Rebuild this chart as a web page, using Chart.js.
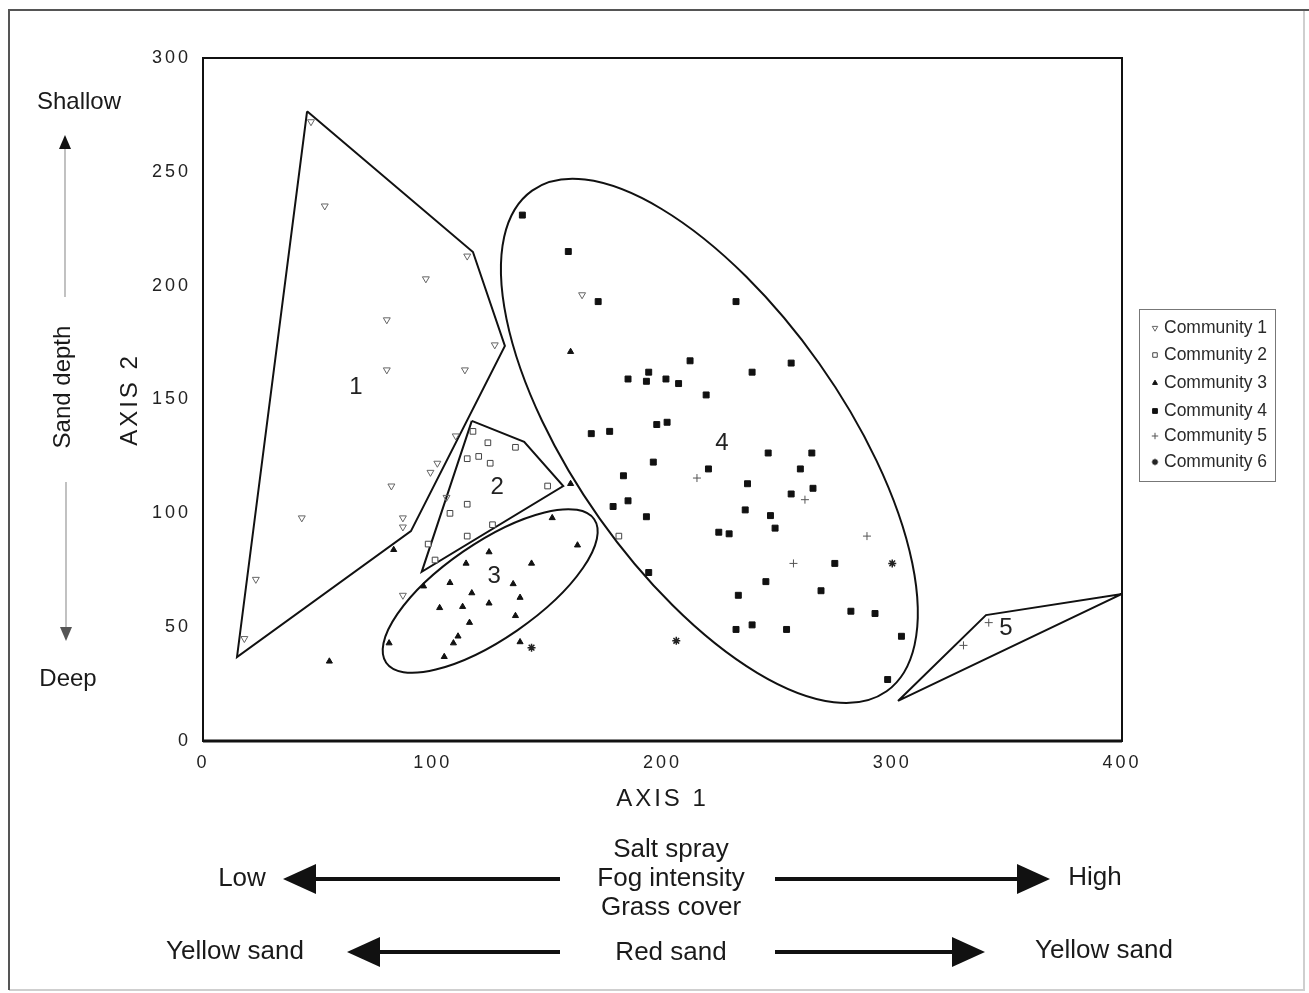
<!DOCTYPE html>
<html><head><meta charset="utf-8">
<script src="https://cdn.jsdelivr.net/npm/chart.js@4.4.1/dist/chart.umd.min.js"></script>
<style>html,body{margin:0;padding:0;background:#fff;}#wrap{width:1309px;height:993px;position:relative;}</style>
</head><body><div id="wrap"><canvas id="c" width="1309" height="993"></canvas></div>
<script>
// ---- data (AXIS 1, AXIS 2) ----
const community1 = [[47,272],[53,235],[115,213],[97,203],[165,196],[80,185],[127,174],[80,163],[114,163],[110,134],[102,122],[99,118],[106,107],[82,112],[43,98],[87,98],[87,94],[23,71],[18,45],[87,64]];
const community2 = [[117.5,136],[124,131],[136,129],[115,124],[120,125],[125,122],[150,112],[115,104],[107.5,100],[126,95],[115,90],[98,86.5],[101,79.5],[181,90]];
const community3 = [[160,113],[152,98],[163,86],[83,84],[124.5,83],[114.5,78],[143,78],[96,68],[107.5,69.5],[135,69],[117,65],[138,63],[124.5,60.5],[103,58.5],[113,59],[136,55],[116,52],[111,46],[109,43],[81,43],[105,37],[55,35],[160,171],[138,43.5]];
const community4 = [[139,231],[159,215],[172,193],[232,193],[212,167],[256,166],[239,162],[185,159],[194,162],[193,158],[201.5,159],[207,157],[219,152],[197.5,139],[202,140],[169,135],[177,136],[246,126.5],[265,126.5],[196,122.5],[220,119.5],[260,119.5],[183,116.5],[237,113],[265.5,111],[256,108.5],[185,105.5],[178.5,103],[236,101.5],[247,99],[193,98.5],[249,93.5],[224.5,91.7],[229,91],[194,74],[245,70],[269,66],[233,64],[282,57],[292.5,56],[232,49],[239,51],[254,49],[304,46],[298,27],[275,78]];
const community5 = [[342,52],[331,42],[257,78],[262,106],[289,90],[215,115.5]];
const community6 = [[206,44],[300,78],[143,41]];
const communityNames = ['Community 1','Community 2','Community 3','Community 4','Community 5','Community 6'];

const polygon1 = [[45.3,276.6],[117.5,214.8],[131.4,173.5],[90.5,92.2],[14.8,36.9],[45.3,276.6]];
const polygon2 = [[117,140.6],[139.8,131.4],[156.8,112],[95.2,74.3],[117,140.6]];
const polygon5 = [[302.5,17.6],[340.8,55.3],[400,64.6],[302.5,17.6]];
// ellipses: centre x, centre y, semi-axes (in AXIS 1 units), rotation (deg)
const ellipseCX = [125.0, 220.4];
const ellipseCY = [65.9, 131.8];
const ellipseA = [55.0, 133.5];
const ellipseB = [20.8, 58.5];
const ellipseRot = [-34.6, 54.7];

const groupLabels = ['1','2','3','4','5'];
const groupLabelX = [66.6,128,126.7,225.9,349.5];
const groupLabelY = [155.5,111.6,72.5,130.9,49.6];

const xTicks = [0,100,200,300,400];
const yTicks = [0,50,100,150,200,250,300];

const FONT = "'Liberation Sans', Arial, sans-serif";
const toXY = a => a.map(p => ({x:p[0], y:p[1]}));

const styles = [
  {pointStyle:'triangle', rotation:180, radius:4, bg:'rgba(255,255,255,0)', border:'#666', bw:1},
  {pointStyle:'rect', rotation:0, radius:4, bg:'#fff', border:'#444', bw:1},
  {pointStyle:'triangle', rotation:0, radius:3.5, bg:'#111', border:'#111', bw:1},
  {pointStyle:'rect', rotation:0, radius:4.2, bg:'#111', border:'#111', bw:1},
  {pointStyle:'cross', rotation:0, radius:4, bg:'#555', border:'#555', bw:1},
  {pointStyle:'star', rotation:0, radius:4, bg:'#222', border:'#222', bw:1.5}
];
const commData = [community1,community2,community3,community4,community5,community6];

const datasets = commData.map((d,i) => ({
  label: communityNames[i], data: toXY(d), showLine:false,
  pointStyle: styles[i].pointStyle, rotation: styles[i].rotation, pointRadius: styles[i].radius,
  pointBackgroundColor: styles[i].bg, pointBorderColor: styles[i].border, pointBorderWidth: styles[i].bw
}));
[polygon1, polygon2, polygon5].forEach((p,i) => datasets.push({
  label: 'Group ' + ['1','2','5'][i], data: toXY(p), showLine:true, tension:0,
  borderColor:'#111', borderWidth:2, pointRadius:0, fill:false
}));

function arrowH(ctx, x1, x2, y, lw, headLen, headHalf) {
  const dir = Math.sign(x2 - x1);
  ctx.strokeStyle = '#111'; ctx.lineWidth = lw;
  ctx.beginPath(); ctx.moveTo(x1, y); ctx.lineTo(x2 - dir*headLen, y); ctx.stroke();
  ctx.fillStyle = '#111';
  ctx.beginPath(); ctx.moveTo(x2, y); ctx.lineTo(x2 - dir*headLen, y - headHalf); ctx.lineTo(x2 - dir*headLen, y + headHalf); ctx.closePath(); ctx.fill();
}

const decor = {
  id: 'decor',
  beforeDraw(chart) {
    const ctx = chart.ctx;
    ctx.save();
    ctx.fillStyle = '#fff'; ctx.fillRect(0,0,chart.width,chart.height);
    ctx.lineWidth = 2;
    ctx.strokeStyle = '#cfcfcf';
    ctx.beginPath(); ctx.moveTo(9,990); ctx.lineTo(1305,990); ctx.moveTo(1304,10); ctx.lineTo(1304,990); ctx.stroke();
    ctx.strokeStyle = '#555';
    ctx.beginPath(); ctx.moveTo(8,10); ctx.lineTo(1309,10); ctx.moveTo(9,10); ctx.lineTo(9,990); ctx.stroke();
    ctx.restore();
    ctx.letterSpacing = '3px';
  },
  beforeDatasetsDraw(chart) {
    const ctx = chart.ctx;
    ctx.letterSpacing = '0px';
    const a = chart.chartArea;
    ctx.save();
    ctx.strokeStyle = '#111'; ctx.lineWidth = 2;
    ctx.strokeRect(a.left, a.top, a.right - a.left, a.bottom - a.top);
    ctx.lineWidth = 3;
    ctx.beginPath(); ctx.moveTo(a.left, a.bottom); ctx.lineTo(a.right, a.bottom); ctx.stroke();
    ctx.restore();
  },
  afterDatasetsDraw(chart) {
    const ctx = chart.ctx, xs = chart.scales.x, ys = chart.scales.y;
    const ppu = xs.getPixelForValue(1) - xs.getPixelForValue(0);
    ctx.save();
    ctx.strokeStyle = '#111'; ctx.lineWidth = 2;
    for (let i = 0; i < ellipseCX.length; i++) {
      ctx.beginPath();
      ctx.ellipse(xs.getPixelForValue(ellipseCX[i]), ys.getPixelForValue(ellipseCY[i]), ellipseA[i]*ppu, ellipseB[i]*ppu, ellipseRot[i]*Math.PI/180, 0, Math.PI*2);
      ctx.stroke();
    }
    ctx.fillStyle = '#222'; ctx.font = '24px ' + FONT; ctx.textAlign = 'center'; ctx.textBaseline = 'middle';
    groupLabels.forEach((t,i) => ctx.fillText(t, xs.getPixelForValue(groupLabelX[i]), ys.getPixelForValue(groupLabelY[i])));
    ctx.restore();
  },
  afterDraw(chart) {
    const ctx = chart.ctx;
    ctx.save();
    ctx.letterSpacing = '0px';
    // legend
    ctx.strokeStyle = '#777'; ctx.lineWidth = 1;
    ctx.strokeRect(1139.5, 309.5, 136, 172);
    const ly = [328,355,383,411,436,462];
    ctx.font = '17.5px ' + FONT; ctx.textAlign = 'left'; ctx.textBaseline = 'middle';
    communityNames.forEach((n,i) => {
      const s = styles[i];
      ctx.fillStyle = s.bg; ctx.strokeStyle = s.border; ctx.lineWidth = s.bw;
      if (Chart.helpers && Chart.helpers.drawPoint) {
        Chart.helpers.drawPoint(ctx, {pointStyle:s.pointStyle, rotation:s.rotation, radius:s.radius*0.8, borderWidth:s.bw}, 1155, ly[i]);
      }
      ctx.fillStyle = '#2a2a2a';
      ctx.fillText(n, 1164, ly[i]);
    });
    // side texts
    ctx.fillStyle = '#1a1a1a'; ctx.textAlign = 'center'; ctx.textBaseline = 'middle';
    ctx.font = '24px ' + FONT;
    ctx.fillText('Shallow', 79, 102);
    ctx.fillText('Deep', 68, 679);
    ctx.save(); ctx.translate(63, 387); ctx.rotate(-Math.PI/2); ctx.fillText('Sand depth', 0, 0); ctx.restore();
    // vertical arrows
    ctx.strokeStyle = '#999'; ctx.lineWidth = 1.2;
    ctx.beginPath(); ctx.moveTo(65,297); ctx.lineTo(65,148); ctx.moveTo(66,482); ctx.lineTo(66,628); ctx.stroke();
    ctx.fillStyle = '#111';
    ctx.beginPath(); ctx.moveTo(65,135); ctx.lineTo(59,149); ctx.lineTo(71,149); ctx.closePath(); ctx.fill();
    ctx.fillStyle = '#555';
    ctx.beginPath(); ctx.moveTo(66,641); ctx.lineTo(60,627); ctx.lineTo(72,627); ctx.closePath(); ctx.fill();
    // bottom texts
    ctx.fillStyle = '#1a1a1a';
    ctx.font = '26px ' + FONT;
    ctx.fillText('Low', 242, 879);
    ctx.fillText('High', 1095, 878);
    ctx.fillText('Salt spray', 671, 850);
    ctx.fillText('Fog intensity', 671, 879);
    ctx.fillText('Grass cover', 671, 908);
    ctx.fillText('Yellow sand', 235, 952);
    ctx.fillText('Red sand', 671, 953);
    ctx.fillText('Yellow sand', 1104, 951);
    arrowH(ctx, 560, 283, 879, 4, 33, 15);
    arrowH(ctx, 775, 1050, 879, 4, 33, 15);
    arrowH(ctx, 560, 347, 952, 4, 33, 15);
    arrowH(ctx, 775, 985, 952, 4, 33, 15);
    ctx.restore();
  }
};

new Chart(document.getElementById('c'), {
  type: 'scatter',
  data: { datasets },
  options: {
    responsive: false, animation: false,
    layout: { padding: { left: 0, right: 187, top: 58, bottom: 152 } },
    plugins: { legend: { display: false }, tooltip: { enabled: false } },
    scales: {
      x: {
        type: 'linear', position: 'bottom', min: 0, max: 400,
        afterBuildTicks: s => { s.ticks = xTicks.map(v => ({value: v})); },
        afterFit: s => { s.height = 100; },
        grid: { display: false, drawTicks: false }, border: { display: false },
        ticks: { font: { size: 18, family: FONT }, color: '#222', padding: 11, maxRotation: 0 },
        title: { display: true, text: 'AXIS 1', font: { size: 24, family: FONT }, color: '#1a1a1a', padding: { top: 0, bottom: 27 } }
      },
      y: {
        type: 'linear', position: 'left', min: 0, max: 300,
        afterBuildTicks: s => { s.ticks = yTicks.map(v => ({value: v})); },
        afterFit: s => { s.width = 203; },
        grid: { display: false, drawTicks: false }, border: { display: false },
        ticks: { font: { size: 18, family: FONT }, color: '#222', padding: 12 },
        title: { display: true, text: 'AXIS 2', font: { size: 24, family: FONT }, color: '#1a1a1a', padding: { top: 116, bottom: 0 } }
      }
    }
  },
  plugins: [decor]
});
</script></body></html>
